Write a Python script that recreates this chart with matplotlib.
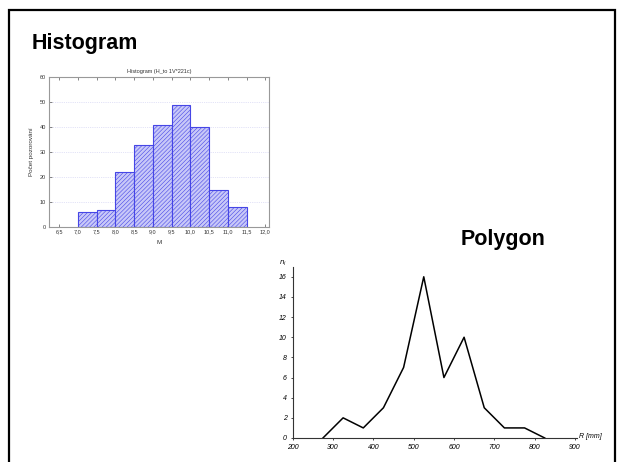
import numpy as np
import matplotlib.pyplot as plt
from matplotlib.patches import Rectangle

# histogram data (bin edges and counts)
bin_edges = [7.0, 7.5, 8.0, 8.5, 9.0, 9.5, 10.0, 10.5, 11.0, 11.5]
counts = [6, 7, 22, 33, 41, 49, 40, 15, 8]
hist_ticks = [6.5, 7.0, 7.5, 8.0, 8.5, 9.0, 9.5, 10.0, 10.5, 11.0, 11.5, 12.0]

# polygon data (class midpoints and frequencies)
poly_x = [275, 325, 375, 425, 475, 525, 575, 625, 675, 725, 775, 825]
poly_n = [0, 2, 1, 3, 7, 16, 6, 10, 3, 1, 1, 0]
poly_xticks = [200, 300, 400, 500, 600, 700, 800, 900]
poly_yticks = [0, 2, 4, 6, 8, 10, 12, 14, 16]

plt.rcParams['font.family'] = ['Liberation Sans', 'DejaVu Sans']
plt.rcParams['hatch.color'] = '#6a6ae8'
plt.rcParams['hatch.linewidth'] = 0.4

fig = plt.figure(figsize=(6.18, 4.62), dpi=100)

# slide border
fig.patches.append(Rectangle((9 / 618, -0.05), 606 / 618, 1 - 10 / 462 + 0.05,
                             transform=fig.transFigure, fill=False,
                             edgecolor='black', linewidth=1.6))

fig.text(32 / 618, 1 - 44 / 462, 'Histogram', fontsize=15.5, fontweight='bold',
         va='center', ha='left')
fig.text(461 / 618, 1 - 240 / 462, 'Polygon', fontsize=15.5, fontweight='bold',
         va='center', ha='left')

# --- histogram ---
ax1 = fig.add_axes([49 / 618, 1 - 227 / 462, 220 / 618, 150 / 462])
widths = np.diff(bin_edges)
ax1.bar(bin_edges[:-1], counts, width=widths, align='edge', color='#c8c8f8',
        edgecolor='#4646e6', linewidth=0.8, hatch='////////', zorder=2)
ax1.set_xlim(6.23, 12.1)
ax1.set_ylim(0, 60)
ax1.set_xticks(hist_ticks)
ax1.set_xticklabels([f'{t:.1f}'.replace('.', ',') for t in hist_ticks])
ax1.set_yticks(range(0, 61, 10))
ax1.tick_params(labelsize=4, length=2, width=0.5, direction='in',
                top=True, colors='#555555', pad=2)
ax1.tick_params(axis='x', labelcolor='#333333')
ax1.tick_params(axis='y', labelcolor='#333333')
for y in range(10, 60, 10):
    ax1.axhline(y, color='#c8c8f0', linewidth=0.5, linestyle=':', zorder=1)
for s in ax1.spines.values():
    s.set_color('#999999')
    s.set_linewidth(0.8)
ax1.set_title('Histogram (H_to 1V*221c)', fontsize=4, pad=3, color='#333333')
ax1.set_xlabel('M', fontsize=4.5, labelpad=4, color='#333333')
ax1.set_ylabel('Počet pozorování', fontsize=4.5, labelpad=4, color='#333333')

# --- polygon ---
ax2 = fig.add_axes([292.7 / 618, 1 - 438 / 462, 284.3 / 618, 171.3 / 462])
ax2.plot(poly_x, poly_n, color='black', linewidth=1.1)
ax2.set_xlim(200, 905)
ax2.set_ylim(0, 17)
ax2.set_xticks(poly_xticks)
ax2.set_yticks(poly_yticks)
ax2.tick_params(labelsize=5, length=1.5, width=0.5, pad=3)
for lab in ax2.get_xticklabels() + ax2.get_yticklabels():
    lab.set_fontstyle('italic')
ax2.spines['top'].set_visible(False)
ax2.spines['right'].set_visible(False)
ax2.spines['left'].set_linewidth(0.8)
ax2.spines['bottom'].set_linewidth(0.8)
ax2.spines['left'].set_color('#333333')
ax2.spines['bottom'].set_color('#333333')
fig.text(283 / 618, 1 - 263 / 462, r'$n_i$', fontsize=5, ha='center', va='center')
fig.text(579 / 618, 1 - 437 / 462, 'R [mm]', fontsize=5, fontstyle='italic',
         ha='left', va='center')

fig.savefig('out.png', dpi=100)
